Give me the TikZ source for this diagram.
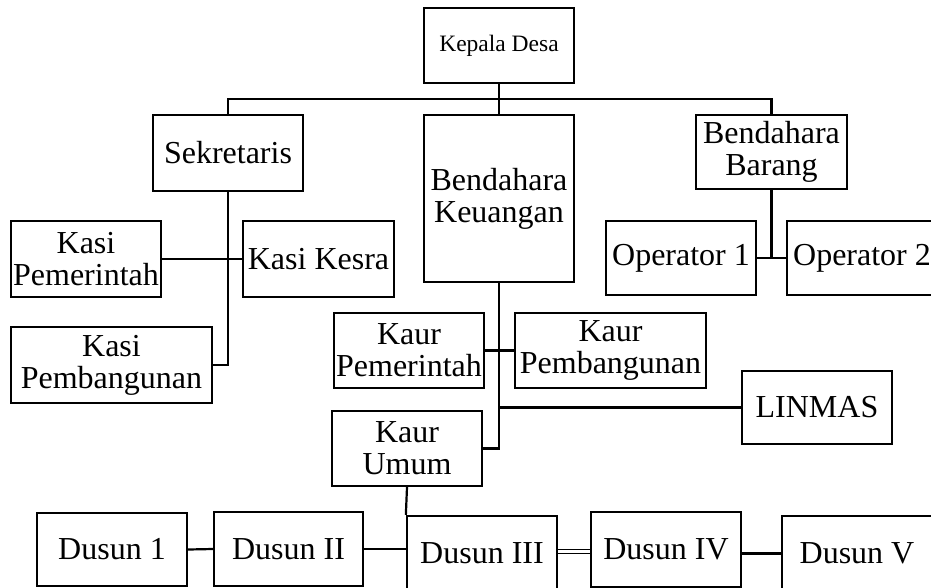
\documentclass[tikz,border=0pt]{standalone}
\usepackage{fontspec}
\setmainfont{Liberation Serif}
\begin{document}
\begin{tikzpicture}[x=1pt,y=-1pt,
  box/.style={draw, line width=2.3pt, inner sep=0pt, align=center,
    font=\fontsize{32}{32}\selectfont},
  conn/.style={line width=2.2pt},
  thin2/.style={line width=1.4pt}]
\path[use as bounding box, clip] (0,0) rectangle (931,587);
% nodes
\node[box, minimum width=150, minimum height=75, font=\fontsize{23.5}{26}\selectfont] (kd) at (499,45.5) {Kepala Desa};
\node[box, minimum width=150, minimum height=76] (sek) at (228,153) {Sekretaris};
\node[box, minimum width=150, minimum height=167] (bk) at (499,198.5) {Bendahara\\Keuangan};
\node[box, minimum width=151, minimum height=74] (bb) at (771.5,152) {Bendahara\\Barang};
\node[box, minimum width=150, minimum height=76] (kp) at (86,259) {Kasi\\Pemerintah};
\node[box, minimum width=151, minimum height=76] (kk) at (318.5,259) {Kasi Kesra};
\node[box, minimum width=201, minimum height=76] (kpb) at (111.5,365) {Kasi\\Pembangunan};
\node[box, minimum width=150, minimum height=74] (op1) at (681,258) {Operator 1};
\node[box, minimum width=150, minimum height=74] (op2) at (862,258) {Operator 2};
\node[box, minimum width=150, minimum height=75] (kurp) at (409,350.5) {Kaur\\Pemerintah};
\node[box, minimum width=191, minimum height=75] (kurpb) at (610.5,350.5) {Kaur\\Pembangunan};
\node[box, minimum width=150, minimum height=73] (lin) at (817,407.5) {LINMAS};
\node[box, minimum width=150, minimum height=75] (ku) at (407,448.5) {Kaur\\Umum};
\node[box, minimum width=150, minimum height=73] (d1) at (112,549.5) {Dusun 1};
\node[box, minimum width=149, minimum height=74] (d2) at (288.5,549) {Dusun II};
\node[box, minimum width=150, minimum height=75] (d3) at (482,553.5) {Dusun III};
\node[box, minimum width=150, minimum height=75] (d4) at (666,549.5) {Dusun IV};
\node[box, minimum width=150, minimum height=75] (d5) at (857,553.5) {Dusun V};
% connectors
\coordinate (top) at (499,99);
\draw[conn] (kd.south) -- (top);
\draw[conn] (sek.north) -- (sek.north |- top) -- (bb.north |- top) -- (bb.north);
\draw[conn] (top) -- (bk.north);
\draw[conn] (sek.south) |- (kpb.east);
\draw[conn] (kp.east) -- (kk.west);
\draw[conn] (bk.south) |- (ku.east);
\draw[conn] (kurp.east) -- (kurpb.west);
\draw[conn] (bk.south |- lin.west) -- (lin.west);
\draw[conn] (bb.south) -- (bb.south |- op1.east);
\draw[conn] (op1.east) -- (op2.west);
\draw[conn] (ku.south) -- (d3.north west);
\draw[conn] (d1.east) -- (d2.west);
\draw[conn] (d2.east) -- (d2.east -| d3.west);
\draw[thin2] (d3.east) -- (d3.east -| d4.west);
\draw[thin2] (d4.west -| d3.east) -- (d4.west);
\draw[conn] (d5.west -| d4.east) -- (d5.west);
\end{tikzpicture}
\end{document}
